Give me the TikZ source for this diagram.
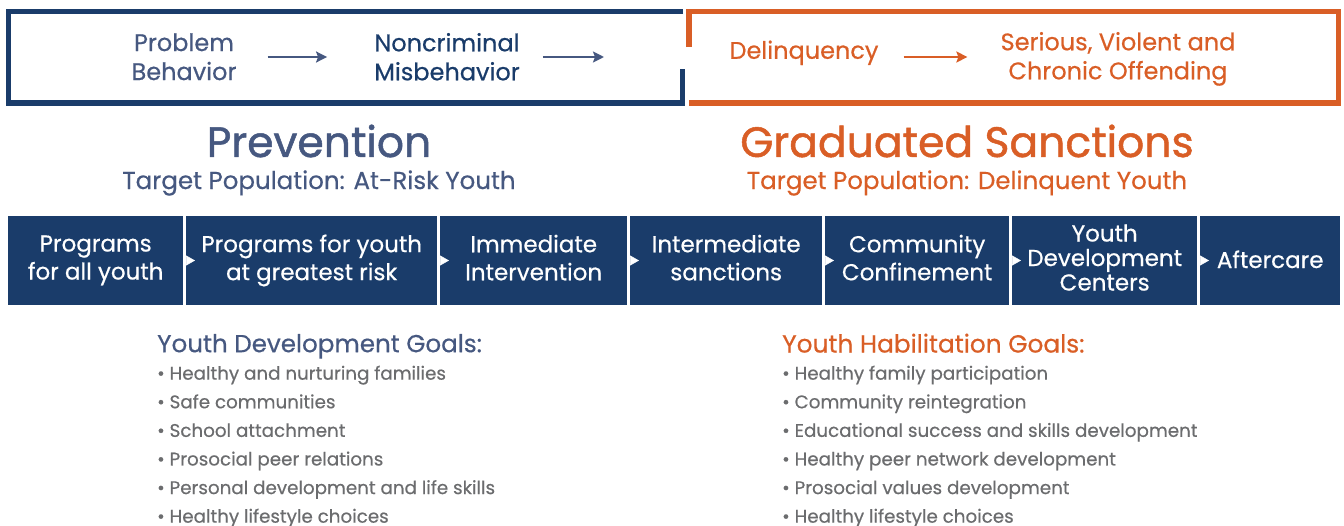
\documentclass[tikz,border=0pt]{standalone}
\usepackage{fontspec}
\setmainfont{Poppins}[FakeBold=0.5]
\newfontfamily\headfont{Poppins}[FakeBold=1.2]
\usetikzlibrary{arrows.meta}
\definecolor{navy}{RGB}{26,60,106}
\definecolor{slate}{RGB}{70,88,128}
\definecolor{rust}{RGB}{217,94,38}
\definecolor{goalgray}{RGB}{107,108,110}

\begin{document}
\begin{tikzpicture}
[x=1pt, y=-1pt,
frame/.style ={line width=5.5pt, line join=miter},
phase/.style ={align=center, inner sep=0pt, font=\fontsize{24}{29}\selectfont, execute at begin node=\strut, execute at end node=\strut},
title/.style ={inner sep=0pt, font=\headfont\fontsize{42.5}{44}\selectfont},
subtitle/.style ={inner sep=0pt, font=\fontsize{24.5}{26}\selectfont},
stage/.style ={rectangle, fill=navy, text=white, align=center, inner sep=0pt, minimum height=89pt, anchor=west, font=\fontsize{23}{28}\selectfont, execute at begin node={\rule{0pt}{21pt}}, execute at end node={\rule[-6pt]{0pt}{6pt}}},
goalhead/.style ={anchor=west, inner sep=0pt, execute at begin node=\strut},
goals/.style ={anchor=north west, align=left, inner sep=0pt, text=goalgray, font=\fontsize{18.3}{28.6}\selectfont},
line/.style ={draw, line width=2.2pt, -{Stealth[length=11pt, width=11pt, inset=2pt]}},
flow/.style ={draw=white, line width=0.5pt, -{Triangle[length=9pt, width=10pt]}, shorten >=-9pt}]
\useasboundingbox (0,0) rectangle (1344,525);
% frames
\draw[frame, navy] (683,11.5) -- (8.5,11.5) -- (8.5,103) -- (682.5,103) -- (682.5,69);
\draw[frame, rust] (689,47) -- (689,11.5) -- (1338.5,11.5) -- (1338.5,103) -- (689,103);
\draw (184, 61) node[phase, text=slate] (pb) {Problem\\Behavior};
\draw (447, 61) node[phase, text=navy] (nm) {Noncriminal\\Misbehavior};
\draw (804, 53) node[phase, text=rust] (dq) {Delinquency};
\draw (1118, 60) node[phase, text=rust] (sv) {Serious, Violent and\\Chronic Offending};
\coordinate (gap) at (604, 57);
\draw[line, slate, shorten <=31pt, shorten >=47pt] ([yshift=4pt]pb.east) -- ([yshift=4pt]nm.west);
\draw[line, slate, shorten <=23pt] ([yshift=4pt]nm.east) -- (gap);
\draw[line, rust, shorten <=25pt, shorten >=33pt] ([yshift=-4pt]dq.east) -- ([yshift=3pt]sv.west);
% titles
\draw (319, 141) node[title, text=slate] (prev) {Prevention};
\draw (319, 183) node[subtitle, text=slate] (tp1) {Target Population: At-Risk Youth};
\draw (967, 141) node[title, text=rust] (grad) {Graduated Sanctions};
\draw (967, 183) node[subtitle, text=rust] (tp2) {Target Population: Delinquent Youth};
% stages
\draw (8, 260.5) node[stage, minimum width=175pt] (s1) {Programs\\for all youth};
\draw (186, 260.5) node[stage, minimum width=251pt] (s2) {Programs for youth\\at greatest risk};
\draw (440, 260.5) node[stage, minimum width=187pt] (s3) {Immediate\\Intervention};
\draw (630, 260.5) node[stage, minimum width=192pt] (s4) {Intermediate\\sanctions};
\draw (825, 260.5) node[stage, minimum width=184pt] (s5) {Community\\Confinement};
\draw (1012, 260.5) node[stage, minimum width=185pt, font=\fontsize{23}{24.5}\selectfont] (s6) {Youth\\Development\\Centers};
\draw (1200, 260.5) node[stage, minimum width=140pt] (s7) {Aftercare};
\draw[flow] (s1.east) -- (s2.west);
\draw[flow] (s2.east) -- (s3.west);
\draw[flow] (s3.east) -- (s4.west);
\draw[flow] (s4.east) -- (s5.west);
\draw[flow] (s5.east) -- (s6.west);
\draw[flow] (s6.east) -- (s7.west);
% goals
\draw (157, 347) node[goalhead, text=slate, font=\fontsize{24.6}{26}\selectfont] (ydg) {Youth Development Goals:};
\draw (157, 365.5) node[goals] (ydl) {\textbullet\ Healthy and nurturing families\\
\textbullet\ Safe communities\\
\textbullet\ School attachment\\
\textbullet\ Prosocial peer relations\\
\textbullet\ Personal development and life skills\\
\textbullet\ Healthy lifestyle choices};
\draw (782, 347) node[goalhead, text=rust, font=\fontsize{24.8}{26}\selectfont] (yhg) {Youth Habilitation Goals:};
\draw (782, 365.5) node[goals] (yhl) {\textbullet\ Healthy family participation\\
\textbullet\ Community reintegration\\
\textbullet\ Educational success and skills development\\
\textbullet\ Healthy peer network development\\
\textbullet\ Prosocial values development\\
\textbullet\ Healthy lifestyle choices};
\end{tikzpicture}
\end{document}
